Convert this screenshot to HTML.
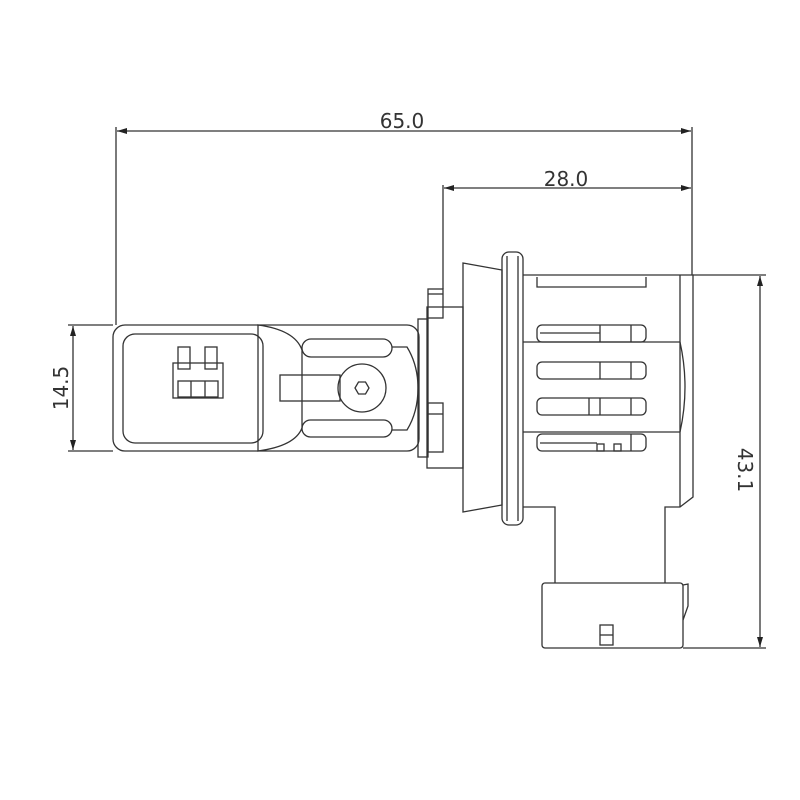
<!DOCTYPE html>
<html><head><style>body{margin:0;background:#fff}svg{display:block}</style></head><body>
<svg width="800" height="800" viewBox="0 0 800 800" xmlns="http://www.w3.org/2000/svg">
<defs><marker id="a" markerWidth="10" markerHeight="6" refX="10" refY="3" orient="auto-start-reverse" markerUnits="userSpaceOnUse"><path d="M0,0 L10,3 L0,6z" fill="#222"/></marker></defs>
<g fill="none" stroke="#333" stroke-width="1.3">
<!-- dimensions -->
<line x1="116" y1="127" x2="116" y2="325"/>
<line x1="692" y1="127" x2="692" y2="275"/>
<line x1="117" y1="131" x2="691" y2="131" marker-start="url(#a)" marker-end="url(#a)"/>
<line x1="443" y1="185" x2="443" y2="289"/>
<line x1="444" y1="188" x2="691" y2="188" marker-start="url(#a)" marker-end="url(#a)"/>
<line x1="68" y1="325" x2="113" y2="325"/>
<line x1="68" y1="451" x2="113" y2="451"/>
<line x1="73" y1="326" x2="73" y2="450" marker-start="url(#a)" marker-end="url(#a)"/>
<line x1="693" y1="275" x2="766" y2="275"/>
<line x1="683" y1="648" x2="766" y2="648"/>
<line x1="760" y1="276" x2="760" y2="647" marker-start="url(#a)" marker-end="url(#a)"/>
<!-- left housing -->
<rect x="113" y="325" width="306" height="126" rx="12"/>
<rect x="123" y="334" width="140" height="109" rx="12"/>
<path d="M258,325 Q295,330 302,350 L302,428 Q295,446 258,451 Z"/>
<rect x="173" y="363" width="50" height="35"/>
<rect x="178" y="347" width="12" height="22"/><rect x="205" y="347" width="12" height="22"/>
<rect x="178" y="381" width="40" height="16"/><line x1="191" y1="381" x2="191" y2="397"/><line x1="205" y1="381" x2="205" y2="397"/>
<rect x="280" y="375" width="60" height="26"/>
<circle cx="362" cy="388" r="24"/>
<path d="M355,388 L358.5,382 L365.5,382 L369,388 L365.5,394 L358.5,394 Z"/>
<rect x="302" y="339" width="90" height="18" rx="9"/>
<rect x="302" y="420" width="90" height="17" rx="8.5"/>
<path d="M392,347 L407,347 Q418,365 418,388 Q418,412 407,430 L392,430"/>
<!-- plate & bracket -->
<rect x="418" y="319" width="10" height="138"/>
<rect x="427" y="307" width="36" height="161"/>
<rect x="428" y="289" width="15" height="29"/><line x1="428" y1="294" x2="443" y2="294"/>
<rect x="428" y="403" width="15" height="49"/><line x1="428" y1="414" x2="443" y2="414"/>
<!-- cone & flange -->
<path d="M463,263 L502,270 L502,505 L463,512 Z"/>
<rect x="502" y="252" width="21" height="273" rx="7"/>
<line x1="507" y1="256" x2="507" y2="521"/><line x1="518" y1="256" x2="518" y2="521"/>
<!-- body -->
<path d="M523,275 L693,275 L693,497 L680,507 L665,507 L665,583 M555,583 L555,507 L523,507"/>
<line x1="680" y1="275" x2="680" y2="507"/>
<path d="M537,277 L537,287 L646,287 L646,277"/>
<line x1="523" y1="342" x2="680" y2="342"/><line x1="523" y1="432" x2="680" y2="432"/>
<path d="M680,342 Q690,387 680,432"/>
<rect x="537" y="325" width="109" height="17" rx="5"/>
<rect x="537" y="362" width="109" height="17" rx="5"/>
<rect x="537" y="398" width="109" height="17" rx="5"/>
<rect x="537" y="434" width="109" height="17" rx="5"/>
<line x1="600" y1="325" x2="600" y2="342"/><line x1="631" y1="325" x2="631" y2="342"/>
<line x1="600" y1="362" x2="600" y2="379"/><line x1="631" y1="362" x2="631" y2="379"/>
<line x1="589" y1="398" x2="589" y2="415"/><line x1="600" y1="398" x2="600" y2="415"/><line x1="631" y1="398" x2="631" y2="415"/>
<line x1="631" y1="434" x2="631" y2="451"/>
<rect x="597" y="444" width="7" height="7"/><rect x="614" y="444" width="7" height="7"/>
<line x1="540" y1="333" x2="600" y2="333"/><line x1="540" y1="443" x2="597" y2="443"/>
<!-- connector -->
<rect x="542" y="583" width="141" height="65" rx="3"/>
<path d="M683,585 L688,584 L688,606 L683,620"/>
<rect x="600" y="625" width="13" height="20"/><line x1="600" y1="635" x2="613" y2="635"/>
</g>
<g font-family="'DejaVu Sans','Liberation Sans',sans-serif" font-size="20" fill="#333">
<text x="402" y="128" text-anchor="middle">65.0</text>
<text x="566" y="186" text-anchor="middle">28.0</text>
<text transform="translate(68,388) rotate(-90)" text-anchor="middle">14.5</text>
<text transform="translate(738,470) rotate(90)" text-anchor="middle">43.1</text>
</g>
</svg>
</body></html>
